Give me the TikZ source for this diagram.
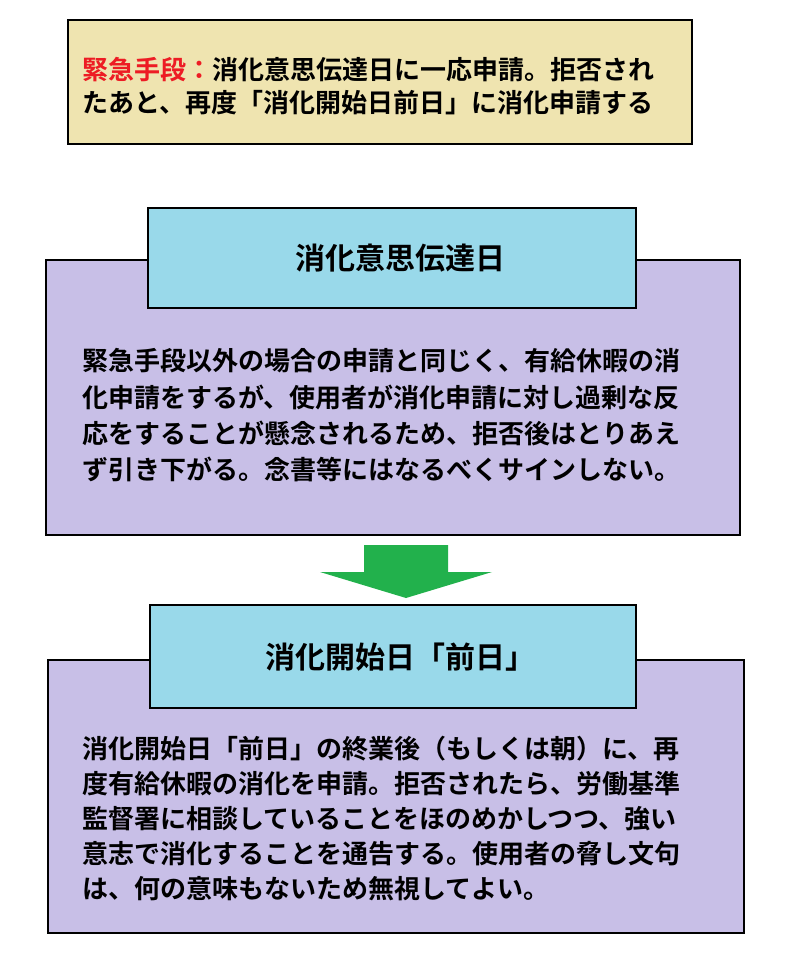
\documentclass[tikz,border=0pt]{standalone}
\usepackage{fontspec}
\newfontfamily\cjk{Noto Sans CJK JP Bold}
\begin{document}
\begin{tikzpicture}[x=1pt,y=-1pt,
  frame/.style={draw=black,line width=2.5pt},
  txt/.style={anchor=west,inner sep=0pt,font=\cjk\fontsize{26}{30}\selectfont},
  ttl/.style={inner sep=0pt,font=\cjk\fontsize{30}{34}\selectfont}]
\useasboundingbox (0,0) rectangle (800,956);
\definecolor{beige}{HTML}{EFE4B0}
\definecolor{purp}{HTML}{C8BFE7}
\definecolor{cyan1}{HTML}{99D9EA}
\definecolor{grn}{HTML}{22B14C}
\definecolor{red1}{HTML}{ED1C24}
% top box
\draw[frame,fill=beige] (68,20) rectangle (692,144);
\node[txt] (t1) at (82,70) {\textcolor{red1}{緊急手段：}消化意思伝達日に一応申請。拒否され};
\node[txt] (t2) at (82,103) {たあと、再度「消化開始日前日」に消化申請する};
% box 1
\draw[frame,fill=purp] (46,260) rectangle (740,535);
\draw[frame,fill=cyan1] (148,208) rectangle (636,308);
\node[ttl] (h1) at (400,258) {消化意思伝達日};
\node[txt] (a1) at (82,361) {緊急手段以外の場合の申請と同じく、有給休暇の消};
\node[txt] (a2) at (82,397) {化申請をするが、使用者が消化申請に対し過剰な反};
\node[txt] (a3) at (82,433) {応をすることが懸念されるため、拒否後はとりあえ};
\node[txt] (a4) at (82,469) {ず引き下がる。念書等にはなるべくサインしない。};
% arrow
\fill[grn] (364,545) -- (448,545) -- (448,572) -- (492,572) -- (406,598) -- (320,572) -- (364,572) -- cycle;
% box 2
\draw[frame,fill=purp] (48,660) rectangle (744,933);
\draw[frame,fill=cyan1] (150,605) rectangle (636,708);
\node[ttl] (h2) at (400,657) {消化開始日「前日」};
\node[txt] (b1) at (82,749) {消化開始日「前日」の終業後（もしくは朝）に、再};
\node[txt] (b2) at (82,784) {度有給休暇の消化を申請。拒否されたら、労働基準};
\node[txt] (b3) at (82,819) {監督署に相談していることをほのめかしつつ、強い};
\node[txt] (b4) at (82,854) {意志で消化することを通告する。使用者の脅し文句};
\node[txt] (b5) at (82,889) {は、何の意味もないため無視してよい。};
\end{tikzpicture}
\end{document}
